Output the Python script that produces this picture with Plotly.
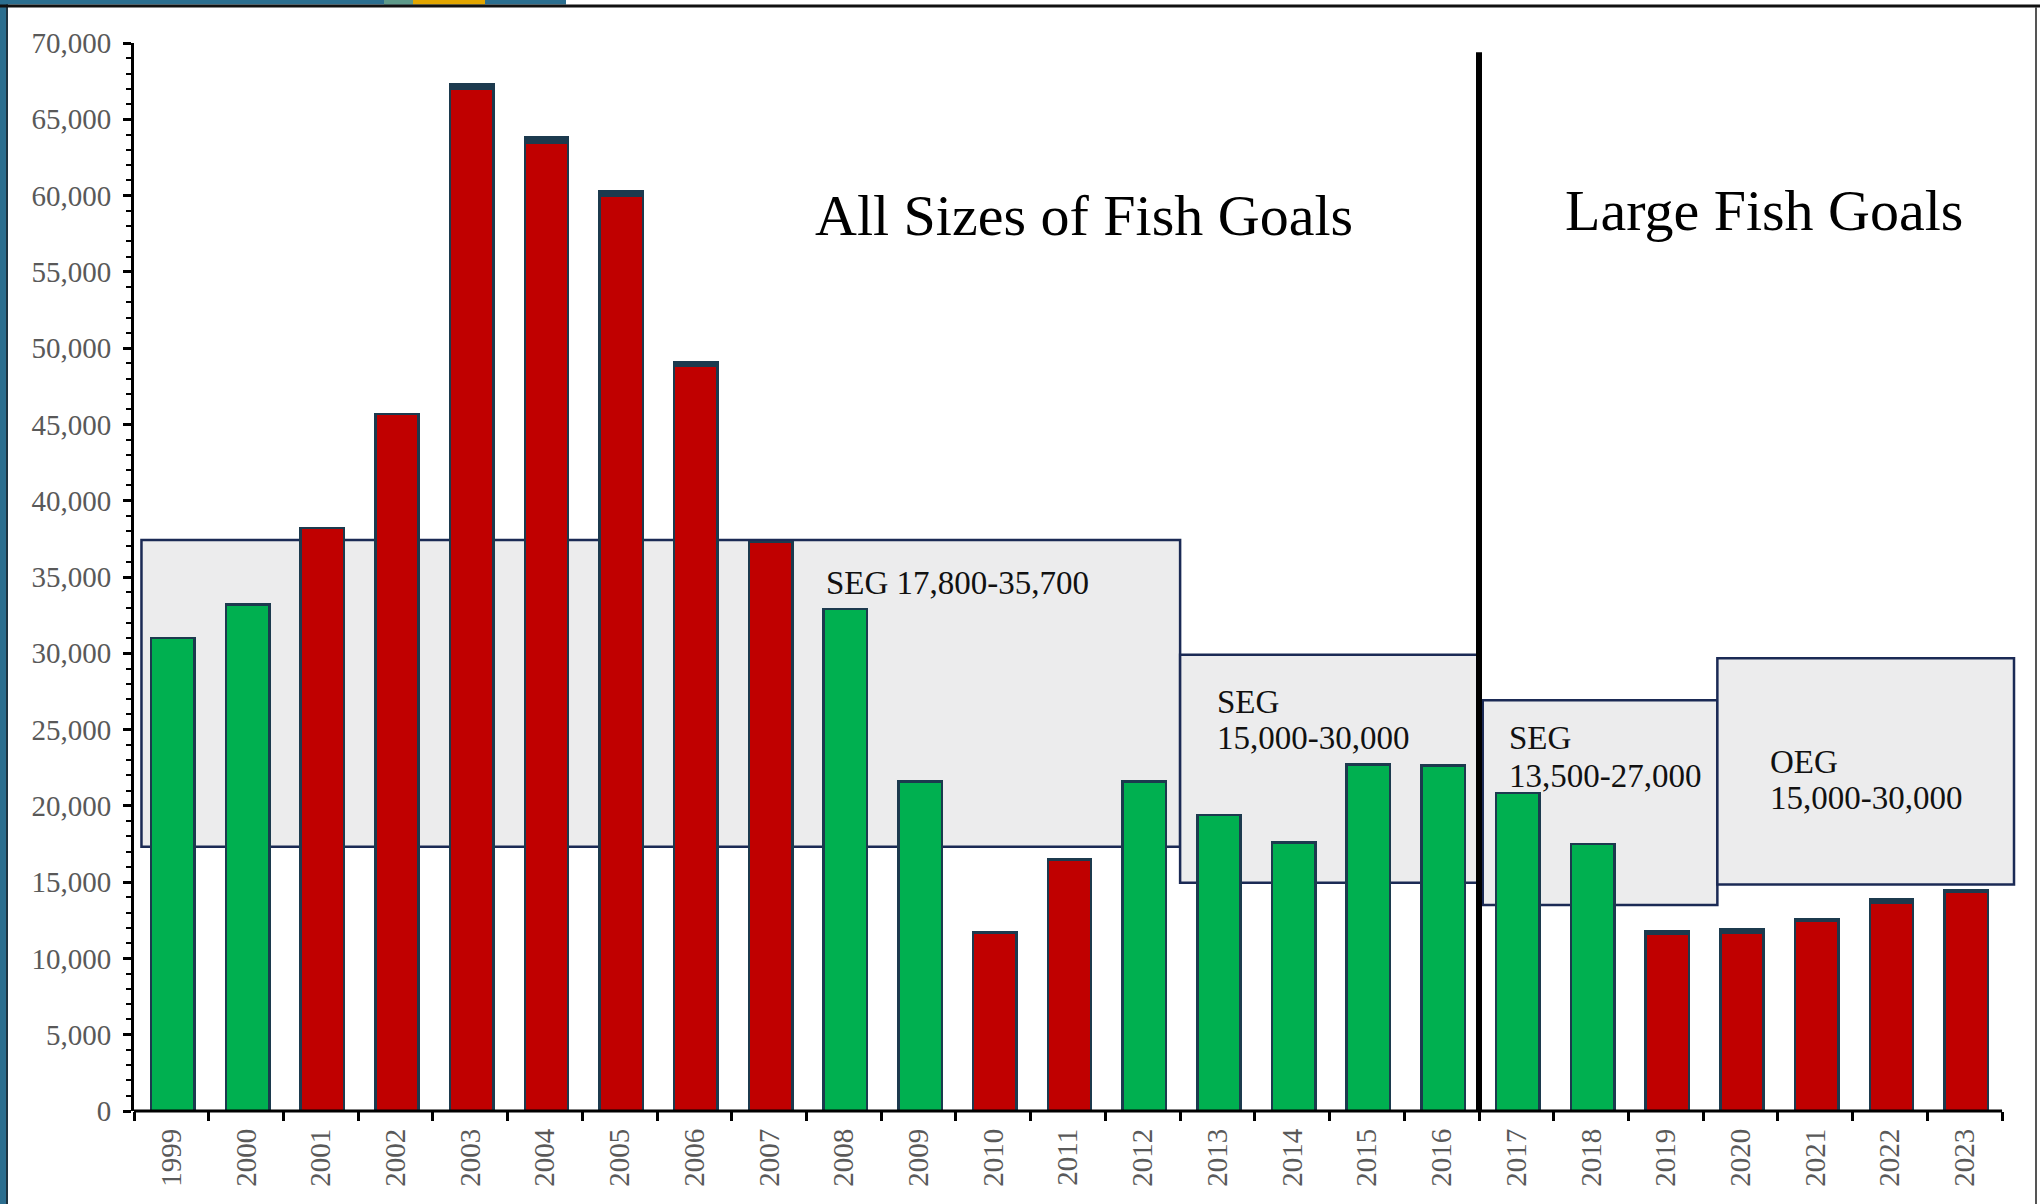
import plotly.graph_objects as go

# ---------------- data ----------------
years = [str(y) for y in range(1999, 2024)]
escapement = [31000, 33200, 38200, 45700, 67300, 63800, 60300, 49100, 37300, 32900,
              21600, 11700, 16500, 21600, 19400, 17600, 22700, 22650, 20850, 17500,
              11800, 11900, 12550, 13900, 14500]
top_segment = [0, 0, 0, 0, 300, 350, 280, 250, 0, 0,
               0, 0, 0, 0, 0, 0, 0, 0, 0, 0,
               200, 220, 80, 250, 150]
goal_met = [True, True, False, False, False, False, False, False, False, True,
            True, False, False, True, True, True, True, True, True, True,
            False, False, False, False, False]

# goal boxes as drawn: (x start, x end in category index, low, high)
goal_x0 = [-0.4, 13.5, 17.55, 20.69]
goal_x1 = [13.5, 17.48, 20.69, 24.66]
goal_lo = [17320, 14960, 13500, 14850]
goal_hi = [37420, 29900, 26930, 29670]

goal_labels = [
    ["SEG 17,800-35,700"],
    ["SEG", "15,000-30,000"],
    ["SEG", "13,500-27,000"],
    ["OEG", "15,000-30,000"],
]
goal_label_x = [8.73, 13.97, 17.87, 21.37]
goal_label_y = [[34600], [26830, 24440], [24440, 21950], [22890, 20490]]

section_titles = ["All Sizes of Fish Goals", "Large Fish Goals"]
section_title_x = [8.59, 18.62]
section_title_y = [58700, 59050]
divider_x = 17.5
divider_top = 69400

# ---------------- style ----------------
GREEN = "#00B050"
RED = "#C00000"
EDGE = "#1C3A4E"
BOX_FILL = "#ECECED"
BOX_EDGE = "#1B2A55"
SERIF = "Liberation Serif, Times New Roman, serif"
TICK_COLOR = "#595959"

W_FIG, H_FIG = 2040, 1204
L, T = 134, 43
PW, PH = 1883, 1068
R = W_FIG - L - PW
B = H_FIG - T - PH


def px(x):
    return (x - L) / PW


def py(y):
    return 1 - (y - T) / PH


main_vals = [e - c for e, c in zip(escapement, top_segment)]
colors = [GREEN if m else RED for m in goal_met]
caps = [c if c > 0 else None for c in top_segment]

fig = go.Figure()
fig.add_trace(go.Bar(
    x=years, y=main_vals, width=0.58, offset=-0.27,
    marker=dict(color=colors, line=dict(color=EDGE, width=2.5)),
    showlegend=False, hoverinfo="x+y",
))
fig.add_trace(go.Bar(
    x=years, y=caps, width=0.58, offset=-0.27,
    marker=dict(color=EDGE, line=dict(color=EDGE, width=2.5)),
    showlegend=False, hoverinfo="skip",
))

shapes = []
for x0, x1, lo, hi in zip(goal_x0, goal_x1, goal_lo, goal_hi):
    shapes.append(dict(type="rect", xref="x", yref="y", x0=x0, x1=x1, y0=lo, y1=hi,
                       fillcolor=BOX_FILL, line=dict(color=BOX_EDGE, width=2.5),
                       layer="below"))

# divider
shapes.append(dict(type="line", xref="x", yref="y", x0=divider_x, x1=divider_x,
                   y0=0, y1=divider_top, line=dict(color="black", width=6),
                   layer="above"))
# x axis baseline
shapes.append(dict(type="line", xref="x", yref="paper", x0=-0.5, x1=len(years) - 0.5,
                   y0=0, y1=0, line=dict(color="black", width=3), layer="above"))

# slide decorations
shapes += [
    dict(type="rect", xref="paper", yref="paper", x0=px(0), x1=px(6), y0=py(0), y1=py(H_FIG),
         fillcolor="#2B6E8F", line=dict(width=0), layer="above"),
    dict(type="rect", xref="paper", yref="paper", x0=px(6), x1=px(8), y0=py(4), y1=py(H_FIG),
         fillcolor="#1E3340", line=dict(width=0), layer="above"),
    dict(type="rect", xref="paper", yref="paper", x0=px(0), x1=px(566), y0=py(0), y1=py(4.5),
         fillcolor="#2B6E8F", line=dict(width=0), layer="above"),
    dict(type="rect", xref="paper", yref="paper", x0=px(384), x1=px(413), y0=py(0), y1=py(4.5),
         fillcolor="#5E9A8A", line=dict(width=0), layer="above"),
    dict(type="rect", xref="paper", yref="paper", x0=px(413), x1=px(485), y0=py(0), y1=py(4.5),
         fillcolor="#E2A600", line=dict(width=0), layer="above"),
    dict(type="rect", xref="paper", yref="paper", x0=px(0), x1=px(W_FIG), y0=py(4.5), y1=py(7.5),
         fillcolor="#111111", line=dict(width=0), layer="above"),
    dict(type="rect", xref="paper", yref="paper", x0=px(2035), x1=px(2037), y0=py(7), y1=py(H_FIG),
         fillcolor="#555555", line=dict(width=0), layer="above"),
]

annotations = []
for txt, x, y in zip(section_titles, section_title_x, section_title_y):
    annotations.append(dict(text=txt, x=x, y=y, xref="x", yref="y", xanchor="left",
                            yanchor="middle", showarrow=False,
                            font=dict(family=SERIF, size=58, color="black")))
for lines, x, ys in zip(goal_labels, goal_label_x, goal_label_y):
    for txt, y in zip(lines, ys):
        annotations.append(dict(text=txt, x=x, y=y, xref="x", yref="y", xanchor="left",
                                yanchor="middle", showarrow=False,
                                font=dict(family=SERIF, size=33, color="#111111")))

fig.update_layout(
    width=W_FIG, height=H_FIG,
    margin=dict(l=L, r=R, t=T, b=B, pad=0),
    paper_bgcolor="white", plot_bgcolor="white",
    barmode="stack", bargap=0.4,
    shapes=shapes, annotations=annotations,
    xaxis=dict(type="category", range=[-0.5, 24.7], showline=False, showgrid=False,
               zeroline=False, ticks="outside", tickson="boundaries", ticklen=9,
               tickwidth=2.5, tickcolor="black", tickangle=-90,
               tickfont=dict(family=SERIF, size=29, color=TICK_COLOR),
               ticklabelstandoff=11),
    yaxis=dict(range=[0, 70000], showline=True, linecolor="black", linewidth=3,
               showgrid=False, zeroline=False, ticks="outside", ticklen=8, tickwidth=2.5,
               tickcolor="black", dtick=5000, tickformat=",d",
               tickfont=dict(family=SERIF, size=29, color=TICK_COLOR),
               ticklabelstandoff=6,
               minor=dict(dtick=1000, ticks="outside", ticklen=5, tickwidth=2,
                          tickcolor="black")),
)

fig.write_html("out.html", config={"displayModeBar": False},
               post_script="document.body.style.margin='0';document.body.style.overflow='hidden';")
